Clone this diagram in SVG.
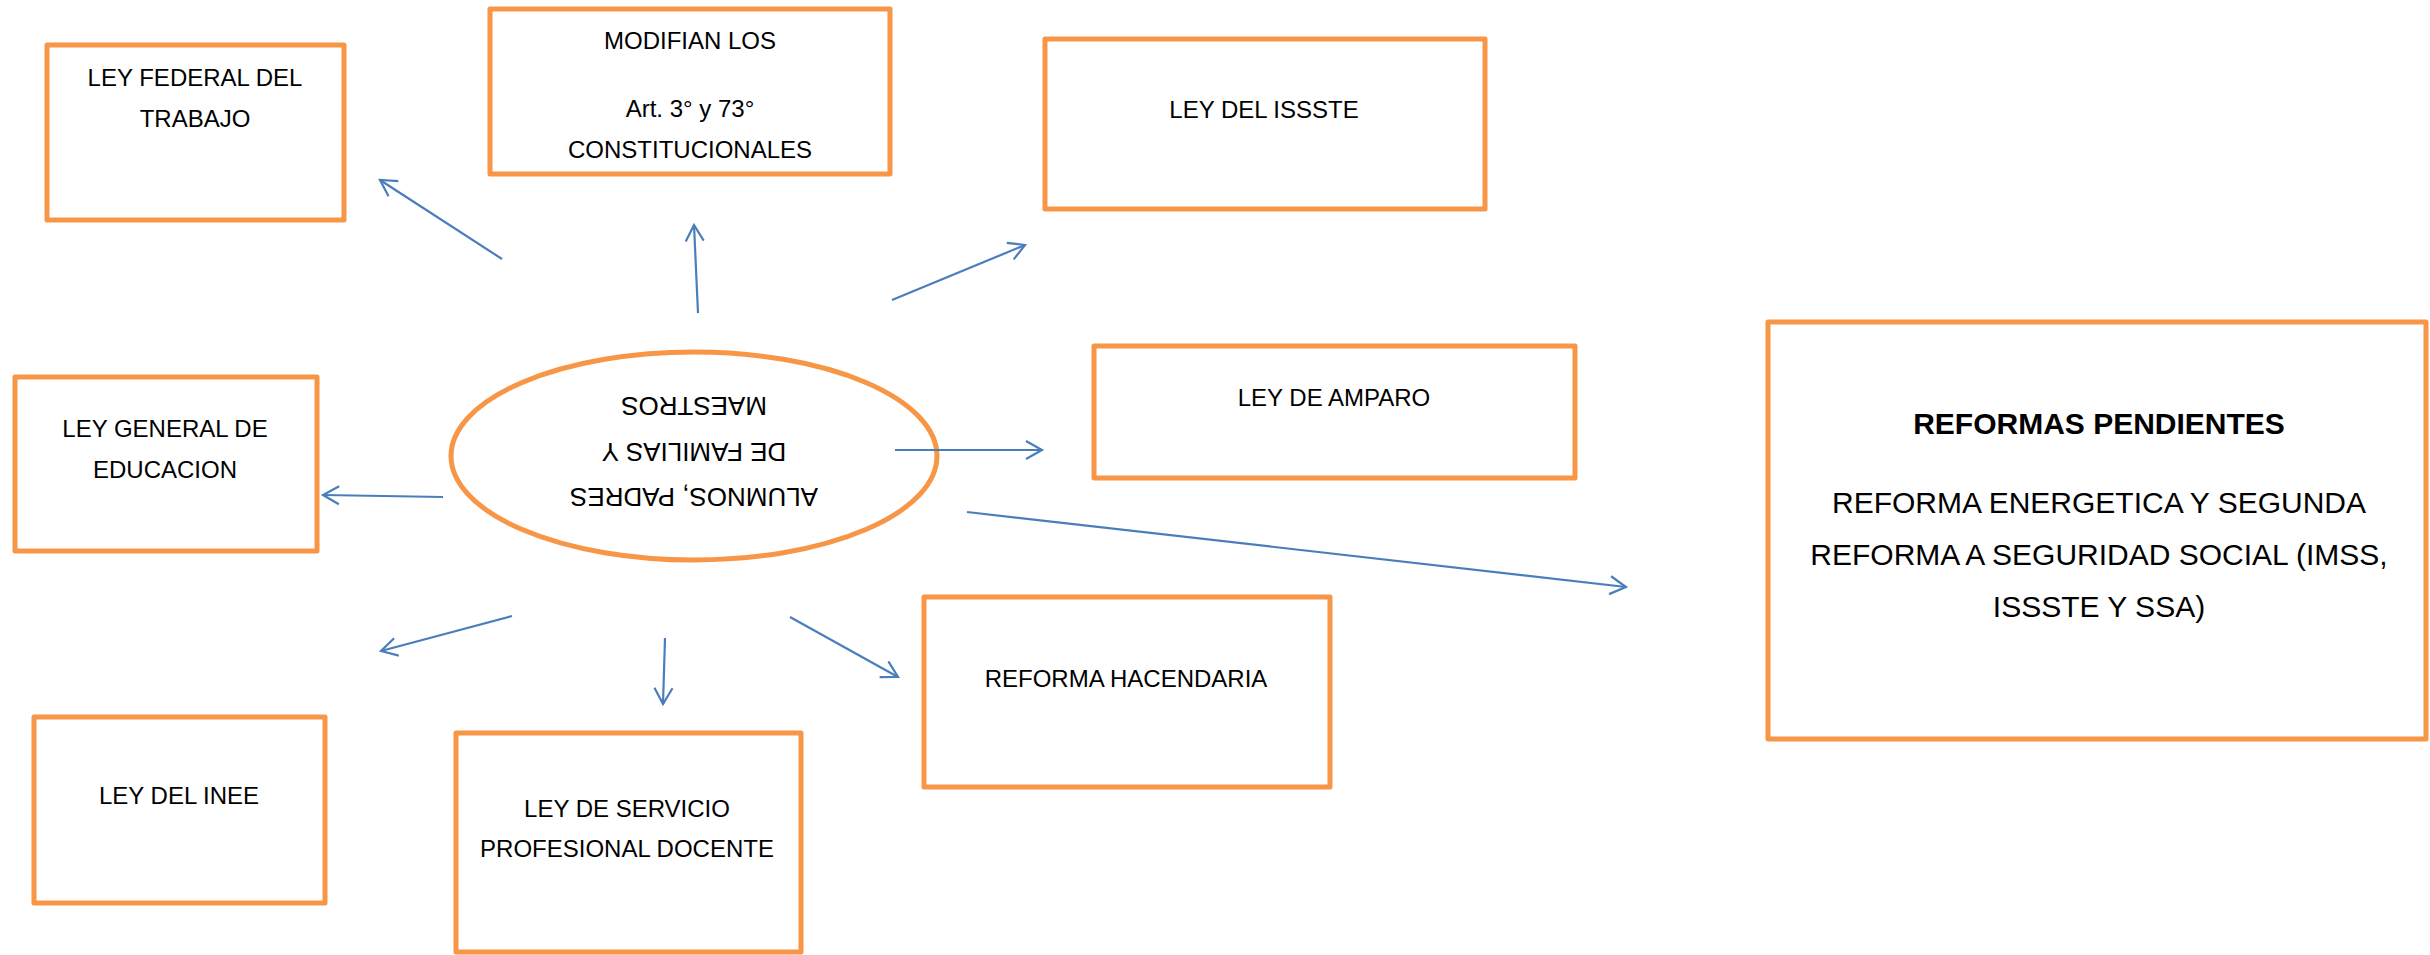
<svg xmlns="http://www.w3.org/2000/svg" width="2430" height="955" viewBox="0 0 2430 955">
<style>
.box{fill:#fff;stroke:#F79646;stroke-width:5;stroke-linejoin:round}
.t{font-family:"Liberation Sans",Arial,sans-serif;font-size:24px;fill:#000;text-anchor:middle}
.tb{font-family:"Liberation Sans",Arial,sans-serif;font-size:30px;fill:#000;text-anchor:middle}
.c{stroke:#4A7EBB;stroke-width:2.2;fill:none;marker-end:url(#ah)}
</style>
<defs>
<marker id="ah" viewBox="-20 -12 24 24" refX="0" refY="0" markerWidth="24" markerHeight="24" markerUnits="userSpaceOnUse" orient="auto">
<path d="M-16,-9 L0,0 L-16,9" fill="none" stroke="#4A7EBB" stroke-width="2.2"/>
</marker>
</defs>
<rect width="2430" height="955" fill="#fff"/>
<g id="ley-federal-trabajo">
<rect class="box" x="47" y="45" width="297" height="175"/>
<text class="t" x="195" y="86">LEY FEDERAL DEL</text>
<text class="t" x="195" y="127">TRABAJO</text>
</g>
<g id="modifian">
<rect class="box" x="490" y="9" width="400" height="165"/>
<text class="t" x="690" y="49">MODIFIAN LOS</text>
<text class="t" x="690" y="117">Art. 3° y 73°</text>
<text class="t" x="690" y="158">CONSTITUCIONALES</text>
</g>
<g id="ley-issste">
<rect class="box" x="1045" y="39" width="440" height="170"/>
<text class="t" x="1264" y="118">LEY DEL ISSSTE</text>
</g>
<g id="ley-general-educacion">
<rect class="box" x="15" y="377" width="302" height="174"/>
<text class="t" x="165" y="437">LEY GENERAL DE</text>
<text class="t" x="165" y="478">EDUCACION</text>
</g>
<g id="centro">
<ellipse cx="694" cy="456" rx="243" ry="104" fill="#fff" stroke="#F79646" stroke-width="5"/>
<g transform="rotate(180 694 452)">
<text class="t" style="font-size:26px" x="694" y="416">ALUMNOS, PADRES</text>
<text class="t" style="font-size:26px" x="694" y="461">DE FAMILIAS Y</text>
<text class="t" style="font-size:26px" x="694" y="507">MAESTROS</text>
</g>
</g>
<g id="ley-amparo">
<rect class="box" x="1094" y="346" width="481" height="132"/>
<text class="t" x="1334" y="406">LEY DE AMPARO</text>
</g>
<g id="reformas-pendientes">
<rect class="box" x="1768" y="322" width="658" height="417"/>
<text class="tb" x="2099" y="434" font-weight="bold">REFORMAS PENDIENTES</text>
<text class="tb" x="2099" y="513">REFORMA ENERGETICA Y SEGUNDA</text>
<text class="tb" x="2099" y="565">REFORMA A SEGURIDAD SOCIAL (IMSS,</text>
<text class="tb" x="2099" y="617">ISSSTE Y SSA)</text>
</g>
<g id="reforma-hacendaria">
<rect class="box" x="924" y="597" width="406" height="190"/>
<text class="t" x="1126" y="687">REFORMA HACENDARIA</text>
</g>
<g id="ley-inee">
<rect class="box" x="34" y="717" width="291" height="186"/>
<text class="t" x="179" y="804">LEY DEL INEE</text>
</g>
<g id="ley-servicio-profesional">
<rect class="box" x="456" y="733" width="345" height="219"/>
<text class="t" x="627" y="817">LEY DE SERVICIO</text>
<text class="t" x="627" y="857">PROFESIONAL DOCENTE</text>
</g>
<g id="connectors">
<line class="c" x1="502" y1="259" x2="380" y2="180"/>
<line class="c" x1="698" y1="313" x2="694" y2="225"/>
<line class="c" x1="892" y1="300" x2="1025" y2="245"/>
<line class="c" x1="443" y1="497" x2="323" y2="495"/>
<line class="c" x1="895" y1="450" x2="1042" y2="450"/>
<line class="c" x1="967" y1="512" x2="1626" y2="587"/>
<line class="c" x1="512" y1="616" x2="381" y2="651"/>
<line class="c" x1="665" y1="638" x2="663" y2="704"/>
<line class="c" x1="790" y1="617" x2="898" y2="677"/>
</g>
</svg>
